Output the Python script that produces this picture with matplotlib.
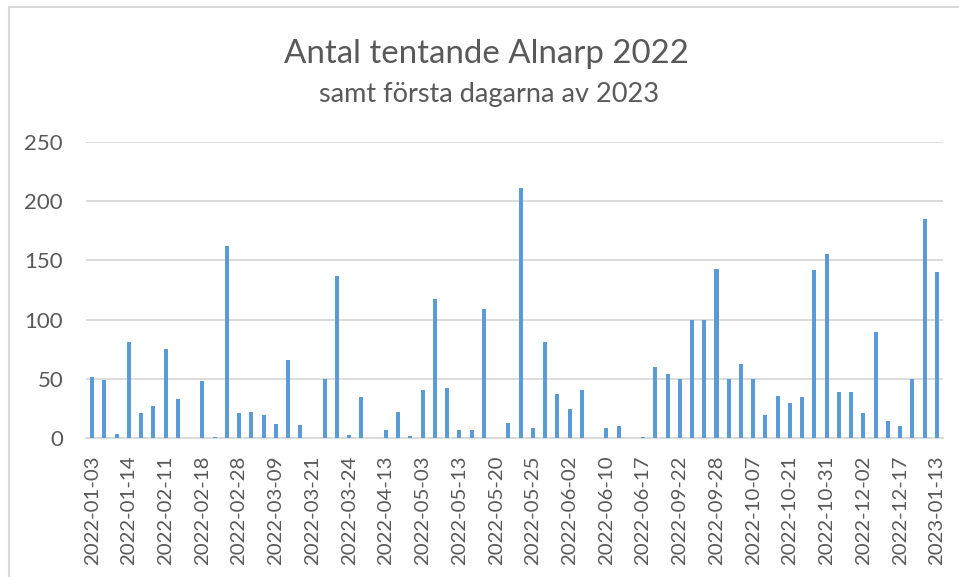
import matplotlib
matplotlib.use("Agg")
import matplotlib.pyplot as plt
from matplotlib.patches import Rectangle
import numpy as np

# Antal tentande per tentamensdag (70 dagar)
antal = [52, 49, 4, 81, 21, 27, 75, 33, 0, 48,
         1, 162, 21, 22, 20, 12, 66, 11, 0, 50,
         137, 3, 35, 0, 7, 22, 2, 41, 117, 42,
         7, 7, 109, 0, 13, 211, 9, 81, 37, 25,
         41, 0, 9, 10, 0, 1, 60, 54, 50, 100,
         100, 143, 50, 63, 50, 20, 36, 30, 35, 142,
         155, 39, 39, 21, 90, 15, 10, 50, 185, 140]

# var tredje dag visas som etikett på x-axeln
datum_etiketter = ["2022-01-03", "2022-01-14", "2022-02-11", "2022-02-18",
                   "2022-02-28", "2022-03-09", "2022-03-21", "2022-03-24",
                   "2022-04-13", "2022-05-03", "2022-05-13", "2022-05-20",
                   "2022-05-25", "2022-06-02", "2022-06-10", "2022-06-17",
                   "2022-09-22", "2022-09-28", "2022-10-07", "2022-10-21",
                   "2022-10-31", "2022-12-02", "2022-12-17", "2023-01-13"]
y_ticks = [0, 50, 100, 150, 200, 250]

TEXT = "#595959"
GRID = "#d9d9d9"
BLUE = "#5b9bd5"

plt.rcParams["font.family"] = ["Lato", "DejaVu Sans"]

W, H = 959, 577
fig = plt.figure(figsize=(W / 100, H / 100), dpi=100)

# ram runt diagrammet (beskuren till höger och nedtill)
fig.patches.append(Rectangle((9 / W, -0.1), 1.2, 1.1 - 7 / H,
                             transform=fig.transFigure, fill=False,
                             edgecolor=GRID, linewidth=1.5))

ax = fig.add_axes([86 / W, 1 - 438.3 / H, (943 - 86) / W, (438.3 - 141.7) / H])

x = np.arange(len(antal))
ax.bar(x, antal, width=0.33, color=BLUE, zorder=3)

ax.set_xlim(-0.5, len(antal) - 0.5)
ax.set_ylim(0, 250)
ax.set_yticks(y_ticks)
ax.set_yticklabels([str(v) for v in y_ticks])
ax.set_xticks(x[::3])
ax.set_xticklabels(datum_etiketter, rotation=90)

ax.grid(axis="y", color=GRID, linewidth=1.3, zorder=0)
for s in ["top", "right", "left"]:
    ax.spines[s].set_visible(False)
ax.spines["bottom"].set_color(GRID)
ax.spines["bottom"].set_linewidth(1.3)
ax.tick_params(axis="both", length=0, colors=TEXT)
ax.tick_params(axis="y", labelsize=16, pad=16.5)
ax.tick_params(axis="x", labelsize=14.7, pad=12.5)

fig.text(486 / W, 1 - 63.3 / H, "Antal tentande Alnarp 2022", ha="center",
         va="baseline", fontsize=23.8, color=TEXT)
fig.text(489 / W, 1 - 101.7 / H, "samt första dagarna av 2023", ha="center",
         va="baseline", fontsize=19.5, color=TEXT)

fig.savefig("out.png", dpi=100, facecolor="white")
